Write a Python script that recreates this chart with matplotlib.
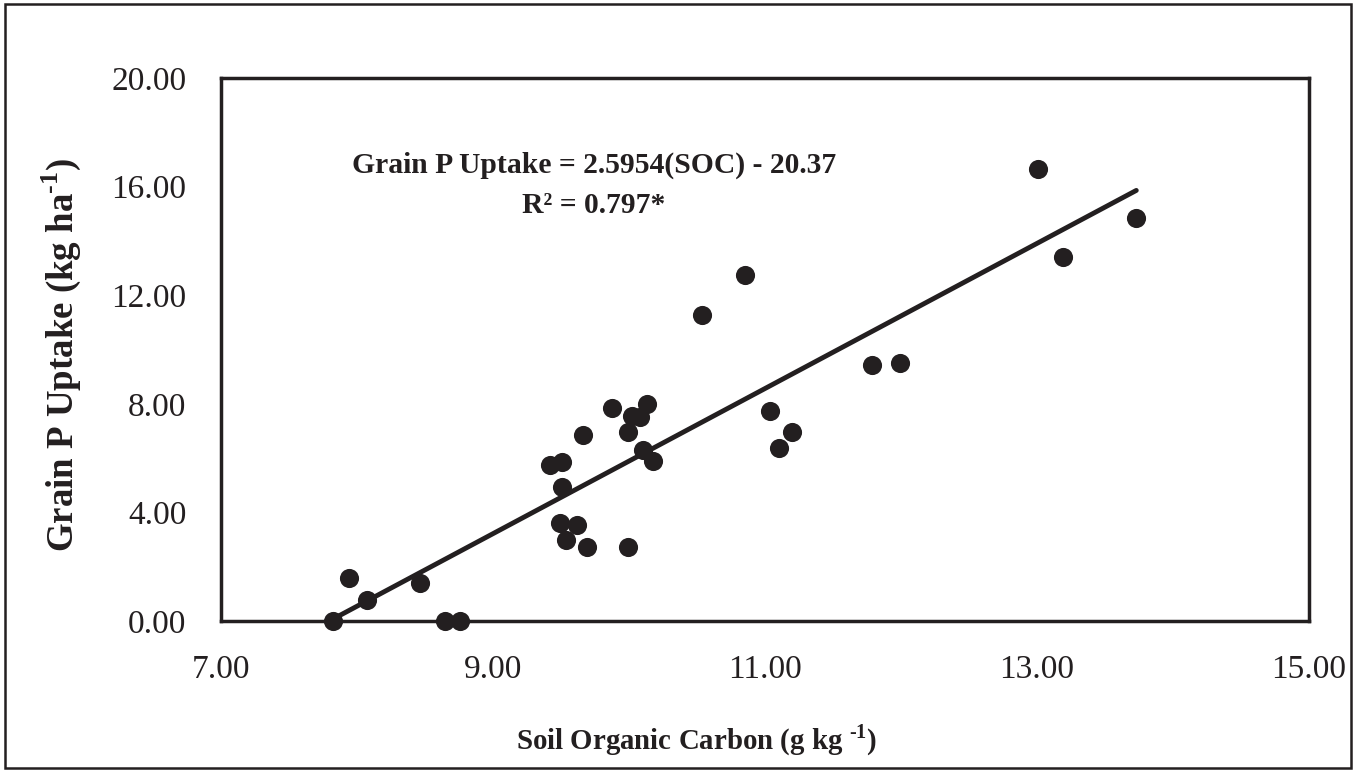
import numpy as np
import matplotlib
matplotlib.use("Agg")
import matplotlib.pyplot as plt
from matplotlib.patches import Rectangle

soc = [7.82, 7.94, 8.07, 8.46, 8.65, 8.76, 9.42, 9.51, 9.51, 9.49, 9.62, 9.54,
       9.69, 9.99, 9.66, 9.875, 10.02, 10.08, 10.13, 9.99, 10.10, 10.18, 10.54,
       10.85, 11.04, 11.20, 11.10, 11.79, 11.99, 13.01, 13.73, 13.19]
uptake = [0.0, 1.58, 0.77, 1.40, 0.0, 0.0, 5.75, 5.86, 4.94, 3.61, 3.54, 2.98,
          2.73, 2.73, 6.85, 7.85, 7.55, 7.51, 7.99, 6.96, 6.30, 5.89, 11.27,
          12.74, 7.73, 6.96, 6.37, 9.43, 9.50, 16.65, 14.84, 13.41]
xticks = [7, 9, 11, 13, 15]
yticks = [0, 4, 8, 12, 16, 20]
equation = "Grain P Uptake = 2.5954(SOC) - 20.37"
r2_text = "R² = 0.797*"

plt.rcParams['font.family'] = ['Liberation Serif', 'DejaVu Serif']
plt.rcParams['mathtext.fontset'] = 'custom'
plt.rcParams['mathtext.bf'] = 'Liberation Serif:bold'
plt.rcParams['mathtext.rm'] = 'Liberation Serif:bold'

fig = plt.figure(figsize=(13.56, 7.71), dpi=100)
ax = fig.add_axes([221/1356, 150/771, 1088/1356, 543/771])

x = np.array(soc)
y = np.array(uptake)
ax.scatter(x, y, s=190, color='#231f20', zorder=3, clip_on=False, linewidths=0)

slope, intercept = np.polyfit(x, y, 1)
xl = np.array([x.min(), x.max()])
ax.plot(xl, slope * xl + intercept, color='#231f20', lw=3.5, solid_capstyle='round', zorder=2)

ax.set_xlim(7, 15)
ax.set_ylim(0, 20)
ax.set_xticks(xticks)
ax.set_xticklabels([f"{v:.2f}" for v in xticks])
ax.set_yticks(yticks)
ax.set_yticklabels([f"{v:.2f}" for v in yticks])
ax.tick_params(length=0, labelsize=24, colors='#231f20')
ax.tick_params(axis='y', pad=25)
ax.tick_params(axis='x', pad=24)
for sp in ax.spines.values():
    sp.set_linewidth(2.5)
    sp.set_color('#231f20')

ax.set_xlabel("Soil Organic Carbon (g kg $^{\\mathbf{\u2010}\\mathbf{1}}$)", fontsize=20.8, fontweight='bold',
              color='#231f20', va='center')
ax.xaxis.set_label_coords(0.4375, -0.219)
ax.set_ylabel("Grain P Uptake (kg ha$^{\\mathbf{\u2010}\\mathbf{1}}$)", fontsize=26.6, fontweight='bold',
              color='#231f20')
ax.yaxis.set_label_coords(-0.1268, 0.49)

ax.text(9.74, 16.78, equation, fontsize=21.3, fontweight='bold', ha='center', va='center', color='#231f20')
ax.text(9.74, 15.32, r2_text, fontsize=21.3, fontweight='bold', ha='center', va='center', color='#231f20')

fig.patches.append(Rectangle((5/1356, 3/771), 1346/1356, 764/771, transform=fig.transFigure,
                             fill=False, edgecolor='#231f20', linewidth=1.8))

fig.savefig("out.png", dpi=100)
